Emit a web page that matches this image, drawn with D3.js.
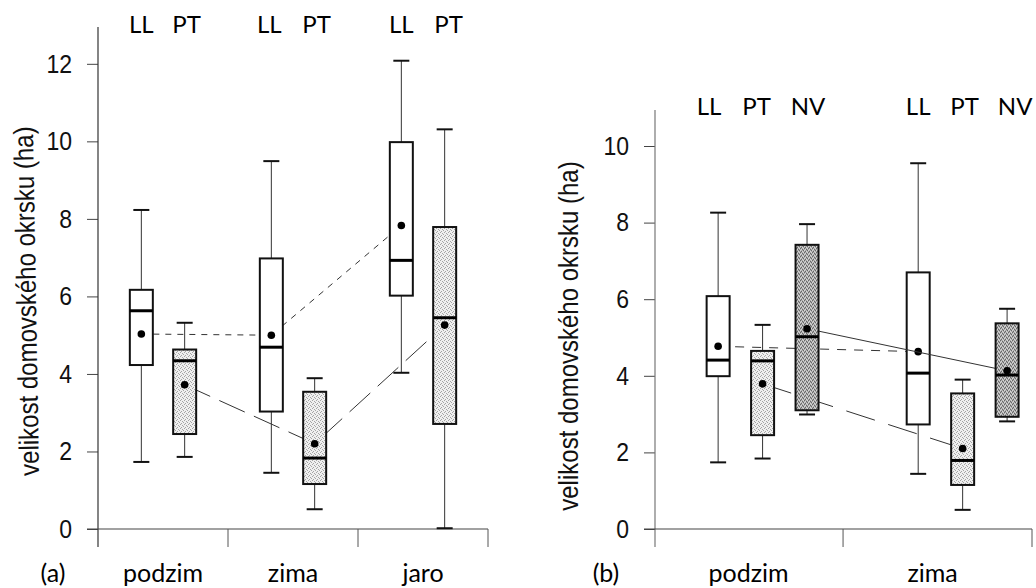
<!DOCTYPE html>
<html>
<head>
<meta charset="utf-8">
<script src="https://cdn.jsdelivr.net/npm/d3@7"></script>
<style>
  html, body { margin: 0; padding: 0; background: #fff; }
  svg { display: block; }
  .tick text { font-family: "Liberation Sans", Arial, sans-serif; font-size: 23px; fill: #111; }
  .lab { font-family: Lato, "Open Sans", sans-serif; fill: #000; }
  .ytitle { font-family: "Liberation Sans", Arial, sans-serif; font-size: 24px; fill: #111; }
</style>
</head>
<body>
<svg id="chart" width="1036" height="588"></svg>
<script>
// ---- data: panel (a) ----
const seasonsA = ["podzim", "zima", "jaro"];
const groupsA = ["LL", "PT"];
// five-number summaries per season: [whisker low, Q1, median, Q3, whisker high]
const a_LL_box = [[1.73, 4.23, 5.63, 6.17, 8.23], [1.45, 3.03, 4.69, 6.98, 9.49], [4.03, 6.02, 6.93, 9.98, 12.08]];
const a_PT_box = [[1.86, 2.45, 4.34, 4.63, 5.32], [0.51, 1.16, 1.83, 3.54, 3.89], [0.02, 2.71, 5.45, 7.79, 10.31]];
const a_LL_mean = [5.03, 5.00, 7.83];
const a_PT_mean = [3.72, 2.20, 5.26];
const yTicksA = [0, 2, 4, 6, 8, 10, 12];

// ---- data: panel (b) ----
const seasonsB = ["podzim", "zima"];
const groupsB = ["LL", "PT", "NV"];
const b_LL_box = [[1.74, 3.99, 4.41, 6.08, 8.26], [1.44, 2.73, 4.07, 6.70, 9.55]];
const b_PT_box = [[1.84, 2.45, 4.39, 4.65, 5.33], [0.50, 1.15, 1.79, 3.54, 3.90]];
const b_NV_box = [[2.99, 3.10, 5.02, 7.42, 7.96], [2.81, 2.93, 4.02, 5.37, 5.75]];
const b_LL_mean = [4.77, 4.63];
const b_PT_mean = [3.79, 2.10];
const b_NV_mean = [5.23, 4.13];
const yTicksB = [0, 2, 4, 6, 8, 10];

const yTitle = "velikost domovského okrsku (ha)";

const svg = d3.select("#chart");
svg.append("rect").attr("width", 1036).attr("height", 588).attr("fill", "#fff");

// stippled fills for the PT and NV boxes
const defs = svg.append("defs");
function stipple(id, bg, dark, light) {
  const p = defs.append("pattern").attr("id", id).attr("patternUnits", "userSpaceOnUse")
    .attr("width", 4).attr("height", 4);
  p.append("rect").attr("width", 4).attr("height", 4).attr("fill", bg);
  [[0, 0], [2, 1], [1, 3], [3, 2]].forEach(([x, y]) =>
    p.append("rect").attr("x", x).attr("y", y).attr("width", 1).attr("height", 1).attr("fill", dark));
  if (light) [[1, 1], [3, 0], [0, 2], [2, 3]].forEach(([x, y]) =>
    p.append("rect").attr("x", x).attr("y", y).attr("width", 1).attr("height", 1).attr("fill", light));
}
stipple("fillPT", "#efefef", "#a4a4a4");
stipple("fillNV", "#ababab", "#666", "#d8d8d8");

const groupFill = { LL: "#fff", PT: "url(#fillPT)", NV: "url(#fillNV)" };

function panel(cfg) {
  const g = svg.append("g");
  const x = d3.scaleLinear().domain(cfg.xDomain).range([cfg.left, cfg.right]);
  const y = d3.scaleLinear().domain(cfg.yDomain).range([cfg.bottom, cfg.top]);
  const axisBottom = cfg.bottom + 18;

  // y axis ticks and labels (glyphs drawn slightly tall)
  const ax = g.append("g").attr("transform", `translate(${cfg.left},0)`)
    .call(d3.axisLeft(y).tickValues(cfg.yTicks).tickSize(11).tickPadding(15).tickFormat(d3.format("d")));
  ax.select(".domain").remove();
  ax.selectAll(".tick line").attr("stroke", "#444");
  ax.selectAll(".tick text").attr("dy", "0.31em").attr("transform", "scale(1,1.16)");

  // y axis line, zero line, category dividers
  g.append("line").attr("x1", cfg.left).attr("x2", cfg.left)
    .attr("y1", cfg.top).attr("y2", axisBottom).attr("stroke", cfg.axisColor).attr("stroke-width", 1.2);
  g.append("line").attr("x1", cfg.left - 11).attr("x2", cfg.right)
    .attr("y1", y(0)).attr("y2", y(0)).attr("stroke", "#444").attr("stroke-width", 1.2);
  g.selectAll(".divider").data(cfg.dividers).join("line")
    .attr("x1", d => x(d)).attr("x2", d => x(d))
    .attr("y1", y(0)).attr("y2", axisBottom).attr("stroke", "#555").attr("stroke-width", 1);

  // y title
  g.append("text").attr("class", "ytitle")
    .attr("transform", `translate(${cfg.titleX},${cfg.titleY}) rotate(${cfg.titleAngle}) scale(1,1.15)`)
    .attr("text-anchor", "middle").text(yTitle);

  // panel tag and season labels
  g.append("text").attr("class", "lab").attr("font-size", 25)
    .attr("x", cfg.tagX).attr("y", 582).attr("text-anchor", "middle").text(cfg.tag);
  g.selectAll(".season").data(cfg.seasons).join("text").attr("class", "lab")
    .attr("font-size", 25).attr("text-anchor", "middle").attr("y", 582)
    .attr("x", (d, i) => (x(cfg.dividers[i] - cfg.step) + x(cfg.dividers[i])) / 2 + cfg.seasonShift[i])
    .text(d => d);

  // boxes per group
  cfg.groups.forEach((grp, gi) => {
    const boxes = cfg.boxes[grp];
    const means = cfg.means[grp];
    const xs = cfg.seasons.map((s, si) => x(cfg.slot(si, gi)));

    // connecting line for group means
    const line = d3.line().x((d, i) => xs[i]).y(d => y(d));
    g.append("path").datum(means).attr("d", line).attr("fill", "none")
      .attr("stroke", "#333").attr("stroke-width", 1)
      .attr("stroke-dasharray", cfg.dash[grp]);

    boxes.forEach((b, si) => {
      const cx = xs[si], hw = 11.5, cw = 8;
      const [lo, q1, med, q3, hi] = b;
      const bg = g.append("g");
      bg.append("line").attr("x1", cx).attr("x2", cx).attr("y1", y(hi)).attr("y2", y(q3))
        .attr("stroke", "#333").attr("stroke-width", 1);
      bg.append("line").attr("x1", cx).attr("x2", cx).attr("y1", y(q1)).attr("y2", y(lo))
        .attr("stroke", "#333").attr("stroke-width", 1);
      [lo, hi].forEach(v => bg.append("line").attr("x1", cx - cw).attr("x2", cx + cw)
        .attr("y1", y(v)).attr("y2", y(v)).attr("stroke", "#111").attr("stroke-width", 2));
      bg.append("rect").attr("x", cx - hw).attr("width", hw * 2)
        .attr("y", y(q3)).attr("height", y(q1) - y(q3))
        .attr("fill", groupFill[grp]).attr("stroke", "#111").attr("stroke-width", 2);
      bg.append("line").attr("x1", cx - hw).attr("x2", cx + hw).attr("y1", y(med)).attr("y2", y(med))
        .attr("stroke", "#000").attr("stroke-width", 3);
    });

    // mean markers
    g.selectAll(null).data(means).join("circle")
      .attr("cx", (d, i) => xs[i]).attr("cy", d => y(d)).attr("r", 3.8).attr("fill", "#000");

    // group labels above the plot
    g.selectAll(null).data(cfg.seasons).join("text").attr("class", "lab")
      .attr("font-size", 24).attr("text-anchor", "middle")
      .attr("x", (d, si) => xs[si] + cfg.labelShift[si * cfg.groups.length + gi])
      .attr("y", cfg.labelY).text(grp);
  });
}

panel({
  seasons: seasonsA, groups: groupsA, yTicks: yTicksA,
  boxes: { LL: a_LL_box, PT: a_PT_box }, means: { LL: a_LL_mean, PT: a_PT_mean },
  left: 98, right: 488, top: 27, bottom: 529,
  xDomain: [0, 9], yDomain: [0, 12.95], step: 3, dividers: [3, 6, 9],
  slot: (si, gi) => si * 3 + gi + 1,
  dash: { LL: "6,6", PT: "28,10" },
  axisColor: "#333", titleX: 36, titleY: 301, titleAngle: -91, tag: "(a)", tagX: 53,
  seasonShift: [0, 0, 0], labelShift: [0, 2, -2, 2, 0, 4], labelY: 33
});

panel({
  seasons: seasonsB, groups: groupsB, yTicks: yTicksB,
  boxes: { LL: b_LL_box, PT: b_PT_box, NV: b_NV_box },
  means: { LL: b_LL_mean, PT: b_PT_mean, NV: b_NV_mean },
  left: 655, right: 1032, top: 110, bottom: 529,
  xDomain: [-0.42, 8.06], yDomain: [0, 10.94], step: 4.25, dividers: [3.81, 8.06],
  slot: (si, gi) => (si === 0 ? 1 : 5.5) + gi,
  dash: { LL: "9,8", PT: "30,14", NV: null },
  axisColor: "#777", titleX: 578, titleY: 336, titleAngle: -90, tag: "(b)", tagX: 606,
  seasonShift: [0, -5], labelShift: [-9, -6, 1, 0, 2, 8], labelY: 115
});
</script>
</body>
</html>
